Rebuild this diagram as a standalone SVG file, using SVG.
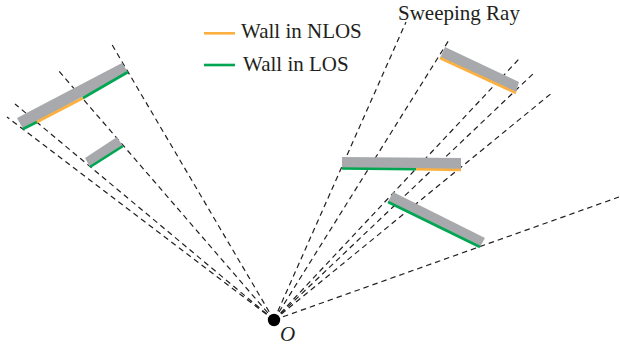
<svg xmlns="http://www.w3.org/2000/svg" width="620" height="349" viewBox="0 0 620 349">
<style>
.ray{stroke:#231f20;stroke-width:1.2;stroke-dasharray:5.5 4;fill:none}
.wall{fill:#a7a9ac}
.los{stroke:#00a651;stroke-width:2.6;fill:none}
.nlos{stroke:#fbb040;stroke-width:2.6;fill:none}
.t{font-family:"Liberation Serif","Times New Roman",serif;font-size:21px;fill:#231f20}
</style>
<rect width="620" height="349" fill="#fff"/>
<g id="rays">
<line class="ray" x1="274" y1="320" x2="7" y2="117"/>
<line class="ray" x1="274" y1="320" x2="15" y2="104"/>
<line class="ray" x1="274" y1="320" x2="58" y2="70"/>
<line class="ray" x1="274" y1="320" x2="111" y2="43"/>
<line class="ray" x1="274" y1="320" x2="406" y2="22"/>
<line class="ray" x1="274" y1="320" x2="449" y2="40"/>
<line class="ray" x1="274" y1="320" x2="519" y2="59"/>
<line class="ray" x1="274" y1="320" x2="535" y2="72"/>
<line class="ray" x1="274" y1="320" x2="553" y2="92"/>
<line class="ray" x1="274" y1="320" x2="619" y2="197"/>
</g>
<g id="wall-left-long">
<polygon class="wall" points="17,118 122,63 128,72 23,129"/>
<line class="los" x1="23" y1="129" x2="37" y2="122"/>
<line class="nlos" x1="37" y1="122" x2="83" y2="98"/>
<line class="los" x1="83" y1="98" x2="128" y2="72"/>
</g>
<g id="wall-left-short">
<polygon class="wall" points="85,158 117,137 123,146 90,167"/>
<line class="los" x1="90" y1="167" x2="123" y2="146"/>
</g>
<g id="wall-top-right">
<polygon class="wall" points="445,47 519,82 516,92 440,58"/>
<line class="nlos" x1="440" y1="58" x2="516" y2="93"/>
</g>
<g id="wall-middle">
<polygon class="wall" points="342,157 461,158 461,170 342,168"/>
<line class="los" x1="342" y1="168.5" x2="416" y2="169.2"/>
<line class="nlos" x1="416" y1="169.2" x2="461" y2="170"/>
</g>
<g id="wall-bottom-right">
<polygon class="wall" points="393,192 485,238 480,247 388,202"/>
<line class="los" x1="388" y1="202" x2="480" y2="247"/>
</g>
<g id="origin">
<circle cx="274" cy="320" r="6.2" fill="#000"/>
<text class="t" x="280" y="341" font-style="italic">O</text>
</g>
<g id="legend">
<line x1="204" y1="33.3" x2="235" y2="33.3" stroke="#fbb040" stroke-width="2.6"/>
<text class="t" x="241" y="37.5">Wall in NLOS</text>
<line x1="204" y1="65" x2="235" y2="65" stroke="#00a651" stroke-width="2.6"/>
<text class="t" x="243" y="70.7">Wall in LOS</text>
</g>
<g id="label-sweeping">
<text class="t" x="398" y="19.5">Sweeping Ray</text>
</g>
</svg>
